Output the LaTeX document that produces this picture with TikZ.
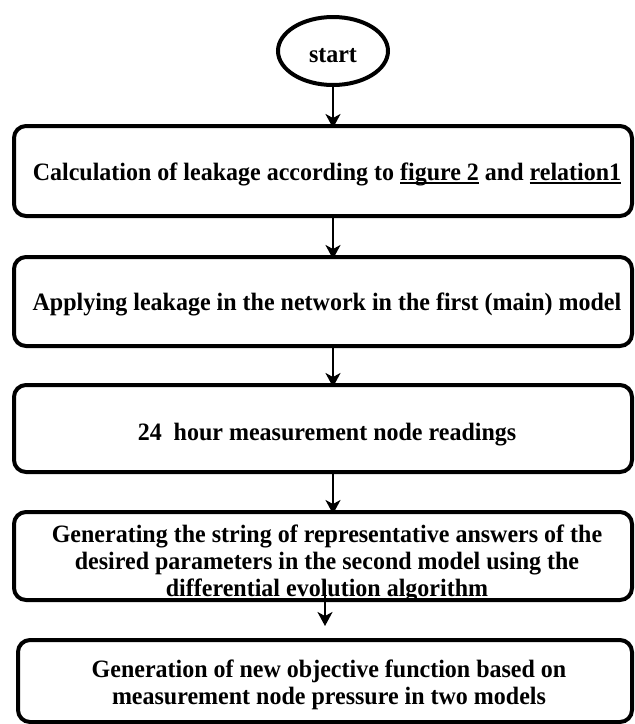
\documentclass[tikz,border=0pt]{standalone}
\usepackage{fontspec}
\setmainfont[FakeStretch=0.96]{Liberation Serif}
\usetikzlibrary{arrows.meta,shapes.geometric}
\newcommand\ulx[1]{\setbox0\hbox{#1}\rlap{\rule[-3.5pt]{\wd0}{1.8pt}}\box0\relax}
\tikzset{
  flowbox/.style={draw=black, line width=4pt, rounded corners=12pt},
  flowtext/.style={anchor=base, inner sep=0pt, font=\fontsize{25}{27}\selectfont\bfseries},
  flowarrow/.style={line width=2pt, -{Stealth[length=14pt, width=15pt, inset=4pt]}},
}
\begin{document}
\begin{tikzpicture}[x=1pt,y=-1pt]
\useasboundingbox (0,0) rectangle (635,724);
% start
\node[ellipse, draw, line width=4pt, minimum width=110pt, minimum height=68pt, inner sep=0pt] (st) at (333,51) {};
\node[flowtext] (tst) at (333,62) {start};
% box 1
\draw[flowbox] (14,126) rectangle (632,216);
\coordinate (b1n) at (333,126); \coordinate (b1s) at (333,216);
\node[flowtext] (t1) at (327,180) {Calculation of leakage according to \ulx{figure 2} and \ulx{relation1}};
% box 2
\draw[flowbox] (14,257) rectangle (632,346);
\coordinate (b2n) at (333,257); \coordinate (b2s) at (333,346);
\node[flowtext] (t2) at (327,310) {Applying leakage in the network in the first (main) model};
% box 3
\draw[flowbox] (14,385) rectangle (632,472);
\coordinate (b3n) at (333,385); \coordinate (b3s) at (333,472);
\node[flowtext] (t3) at (327,440) {24~ hour measurement node readings};
% box 4
\begin{scope}
\clip (14,512) rectangle (632,598);
\node[flowtext] (t4a) at (327,542) {Generating the string of representative answers of the};
\node[flowtext] (t4b) at (327,569) {desired parameters in the second model using the};
\node[flowtext] (t4c) at (327,596) {differential evolution algorithm};
\end{scope}
\draw[flowbox] (14,512) rectangle (632,600);
\coordinate (b4n) at (333,512);
% box 5
\draw[flowbox] (18,640) rectangle (632,722);
\node[flowtext] (t5a) at (329,677) {Generation of new objective function based on};
\node[flowtext] (t5b) at (329,704) {measurement node pressure in two models};
% arrows
\coordinate (a5s) at (325,580); \coordinate (a5e) at (325,626);
\draw[flowarrow] (st.south) -- ([yshift=-2pt]b1n);
\draw[flowarrow] (b1s) -- ([yshift=-2pt]b2n);
\draw[flowarrow] (b2s) -- ([yshift=-2pt]b3n);
\draw[flowarrow] (b3s) -- ([yshift=-2pt]b4n);
\draw[flowarrow] (a5s) -- (a5e);
\end{tikzpicture}
\end{document}
